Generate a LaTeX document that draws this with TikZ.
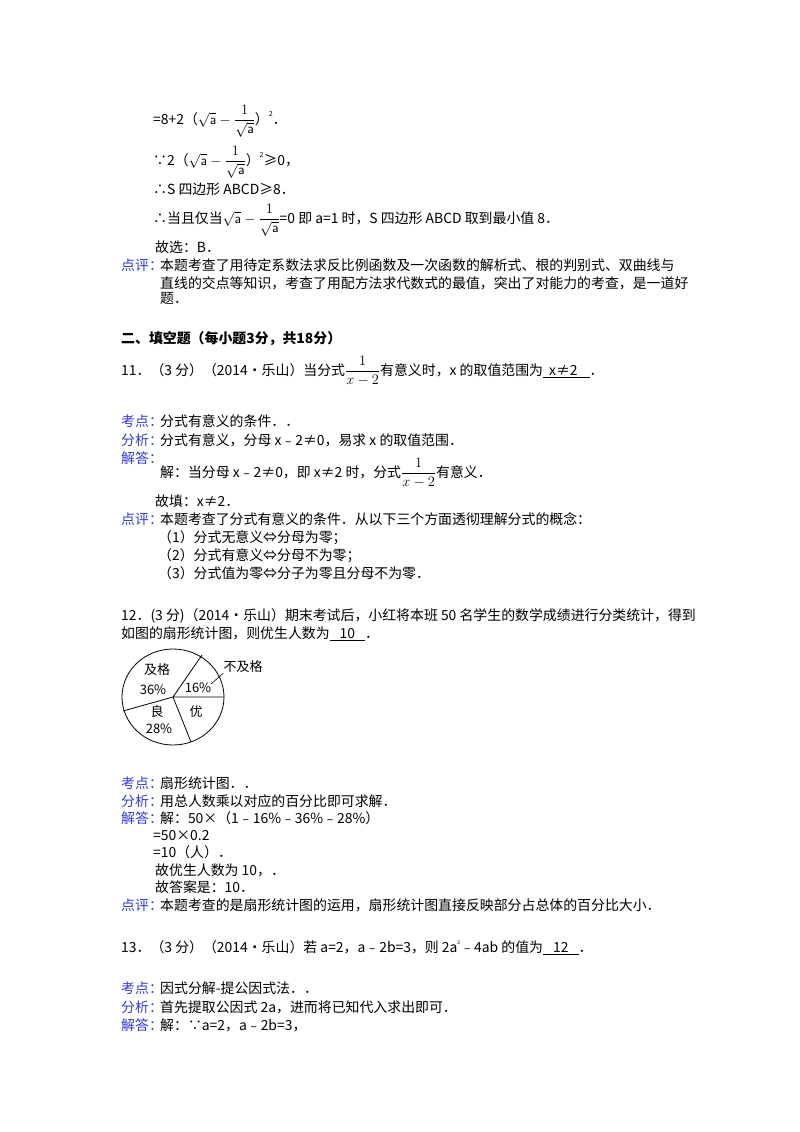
\documentclass[tikz,border=0pt]{standalone}
\usepackage{fontspec}
\setmainfont{Noto Sans CJK SC}
\usepackage{amsmath}
\begin{document}
\fontsize{13.9pt}{16pt}\selectfont
\begin{tikzpicture}[x=1pt,y=-1pt,
  t/.style={anchor=base west,inner sep=0pt},
  lab/.style={t,text=labblue},
  pl/.style={inner sep=0pt,font=\fontsize{13pt}{15pt}\selectfont}]
\definecolor{labblue}{RGB}{50,60,220}
\useasboundingbox (0,0) rectangle (800,1132);
\def\sq{\sqrt{\mathsf{a}}}
% top part
\node[t] (l1) at (153,124) {=8+2（$\sq-\dfrac{1}{\sq}$）\raisebox{1ex}{\scriptsize 2}．};
\node[t] (l2) at (153,165) {∵2（$\sq-\dfrac{1}{\sq}$）\raisebox{1ex}{\scriptsize 2}≥0，};
\node[t] (l3) at (153,194) {∴S 四边形 ABCD≥8．};
\node[t] (l4) at (153,223) {∴当且仅当$\sq-\dfrac{1}{\sq}$=0 即 a=1 时，S 四边形 ABCD 取到最小值 8．};
\node[t] (l5) at (155,252) {故选：B．};
\node[lab] (d1) at (121,270) {点评：};
\node[t] (d1a) at (160,270) {本题考查了用待定系数法求反比例函数及一次函数的解析式、根的判别式、双曲线与};
\node[t] (d1b) at (160,288) {直线的交点等知识，考查了用配方法求代数式的最值，突出了对能力的考查，是一道好};
\node[t] (d1c) at (160,303) {题．};
% section
\node[t,font=\bfseries] (sec) at (121,343) {二、填空题（每小题3分，共18分）};
% 11
\node[t] (q11) at (121,375) {11．（3 分）（2014•乐山）当分式$\dfrac{1}{x-2}$有意义时，x 的取值范围为\underline{\hspace{6pt}x≠2\hspace{12pt}}．};
\node[lab] (k11) at (121,426) {考点：};
\node[t] at (160,426) {分式有意义的条件．．};
\node[lab] (f11) at (121,445) {分析：};
\node[t] at (160,445) {分式有意义，分母 x﹣2≠0，易求 x 的取值范围．};
\node[lab] (j11) at (121,463) {解答：};
\node[t] at (160,477) {解：当分母 x﹣2≠0，即 x≠2 时，分式$\dfrac{1}{x-2}$有意义．};
\node[t] at (155,506) {故填：x≠2．};
\node[lab] (p11) at (121,524) {点评：};
\node[t] at (160,524) {本题考查了分式有意义的条件．从以下三个方面透彻理解分式的概念：};
\node[t] at (158,542) {（1）分式无意义⇔分母为零；};
\node[t] at (158,560) {（2）分式有意义⇔分母不为零；};
\node[t] at (158,578) {（3）分式值为零⇔分子为零且分母不为零．};
% 12
\node[t] (q12) at (121,620) {12．(3 分)（2014•乐山）期末考试后，小红将本班 50 名学生的数学成绩进行分类统计，得到};
\node[t] (q12b) at (121,638) {如图的扇形统计图，则优生人数为\underline{\hspace{10pt}10\hspace{10pt}}．};
% pie
\coordinate (c) at (173,697);
\draw[line width=0.8pt] (c) ellipse [x radius=51,y radius=48];
\coordinate (e1) at (202,655);
\coordinate (e2) at (224,697);
\coordinate (e3) at (191,742);
\coordinate (e4) at (123,711);
\draw[line width=0.8pt] (c) -- (e1) (c) -- (e2) (c) -- (e3) (c) -- (e4);
\node[pl] (p1) at (157,670) {及格};
\node[pl] (p2) at (153,690) {36\%};
\node[pl] (p3) at (198,688) {16\%};
\node[pl] (p4) at (243,667) {不及格};
\draw[line width=0.6pt] (211,684) -- (p4.south west);
\node[pl] (p5) at (157,712) {良};
\node[pl] (p6) at (159,729) {28\%};
\node[pl] (p7) at (196,712) {优};
% 12 solution
\node[lab] at (121,788) {考点：};
\node[t] at (160,788) {扇形统计图．．};
\node[lab] at (121,806) {分析：};
\node[t] at (160,806) {用总人数乘以对应的百分比即可求解．};
\node[lab] at (121,823) {解答：};
\node[t] at (160,823) {解：50×（1﹣16\%﹣36\%﹣28\%）};
\node[t] at (153,840) {=50×0.2};
\node[t] at (153,857) {=10（人）．};
\node[t] at (155,875) {故优生人数为 10，．};
\node[t] at (155,892) {故答案是：10．};
\node[lab] at (121,910) {点评：};
\node[t] at (160,910) {本题考查的是扇形统计图的运用，扇形统计图直接反映部分占总体的百分比大小．};
% 13
\node[t] (q13) at (121,952) {13．（3 分）（2014•乐山）若 a=2，a﹣2b=3，则 2a\raisebox{1ex}{\tiny 2}﹣4ab 的值为\underline{\hspace{10pt}12\hspace{10pt}}．};
\node[lab] at (121,993) {考点：};
\node[t] at (160,993) {因式分解-提公因式法．．};
\node[lab] at (121,1012) {分析：};
\node[t] at (160,1012) {首先提取公因式 2a，进而将已知代入求出即可．};
\node[lab] at (121,1030) {解答：};
\node[t] at (160,1030) {解：∵a=2，a﹣2b=3，};
\end{tikzpicture}
\end{document}
